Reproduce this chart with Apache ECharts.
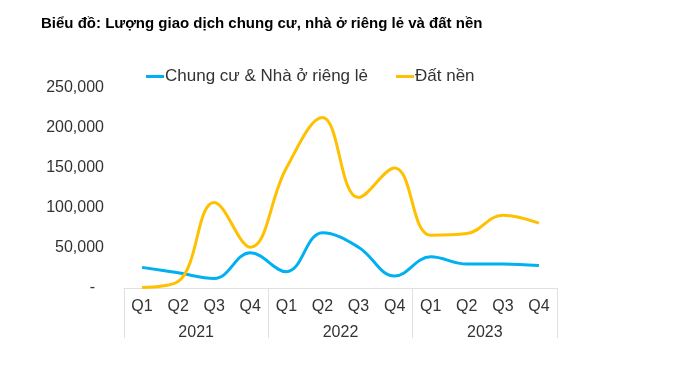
<!DOCTYPE html>
<html><head><meta charset="utf-8">
<script src="https://cdn.jsdelivr.net/npm/echarts@6/dist/echarts.min.js"></script>
<style>html,body{margin:0;padding:0;background:#fff}#c{width:692px;height:368px}</style>
</head><body><div id="c"></div>
<script>
const quarters = ['Q1','Q2','Q3','Q4','Q1','Q2','Q3','Q4','Q1','Q2','Q3','Q4'];
const years = ['2021','2022','2023'];
const chungCu = [25800, 19000, 12000, 44000, 20400, 69000, 51000, 15000, 39000, 30000, 30000, 28000];
const datNen = [500, 8000, 107000, 51000, 150000, 213000, 113000, 150000, 66000, 68000, 91000, 81000];

const chart = echarts.init(document.getElementById('c'));
const font = 'Liberation Sans, Arial, sans-serif';
chart.setOption({
  animation: false,
  title: {
    text: 'Biểu đồ: Lượng giao dịch chung cư, nhà ở riêng lẻ và đất nền',
    left: 36, top: 11,
    textStyle: {fontFamily: font, fontSize: 15, fontWeight: 'bold', color: '#000'}
  },
  legend: {
    left: 141, top: 63,
    itemWidth: 18, itemHeight: 3, itemGap: 28,
    icon: 'rect',
    textStyle: {fontFamily: font, fontSize: 17, color: '#333', padding: [0, 0, 0, -4]},
    data: ['Chung cư & Nhà ở riêng lẻ', 'Đất nền']
  },
  grid: {left: 124, right: 135, top: 88, bottom: 80},
  xAxis: [
    {
      type: 'category', data: quarters, position: 'bottom',
      axisLine: {show: false}, axisTick: {show: false},
      axisLabel: {fontFamily: font, fontSize: 16, color: '#333', margin: 11}
    },
    {
      type: 'category', data: years, position: 'bottom',
      axisLine: {show: true, lineStyle: {color: '#e0e0e0', width: 1}},
      axisTick: {show: true, length: 50, lineStyle: {color: '#e0e0e0', width: 1}},
      axisLabel: {fontFamily: font, fontSize: 16, color: '#333', margin: 37}
    }
  ],
  yAxis: {
    type: 'value', min: 0, max: 250000, interval: 50000,
    axisLine: {show: false}, axisTick: {show: false},
    splitLine: {show: false},
    axisLabel: {
      fontFamily: font, fontSize: 16, color: '#333', margin: 20,
      formatter: v => v === 0 ? '{d|-}' : v.toLocaleString('en-US'),
      rich: {d: {fontFamily: font, fontSize: 16, color: '#333', padding: [0, 9, 0, 0]}}
    }
  },
  series: [
    {
      name: 'Chung cư & Nhà ở riêng lẻ', type: 'line', data: chungCu,
      smooth: 0.4, symbol: 'none',
      lineStyle: {color: '#00B0F0', width: 3}, itemStyle: {color: '#00B0F0'}
    },
    {
      name: 'Đất nền', type: 'line', data: datNen,
      smooth: 0.4, symbol: 'none',
      lineStyle: {color: '#FFC000', width: 3}, itemStyle: {color: '#FFC000'}
    }
  ]
});
</script></body></html>
